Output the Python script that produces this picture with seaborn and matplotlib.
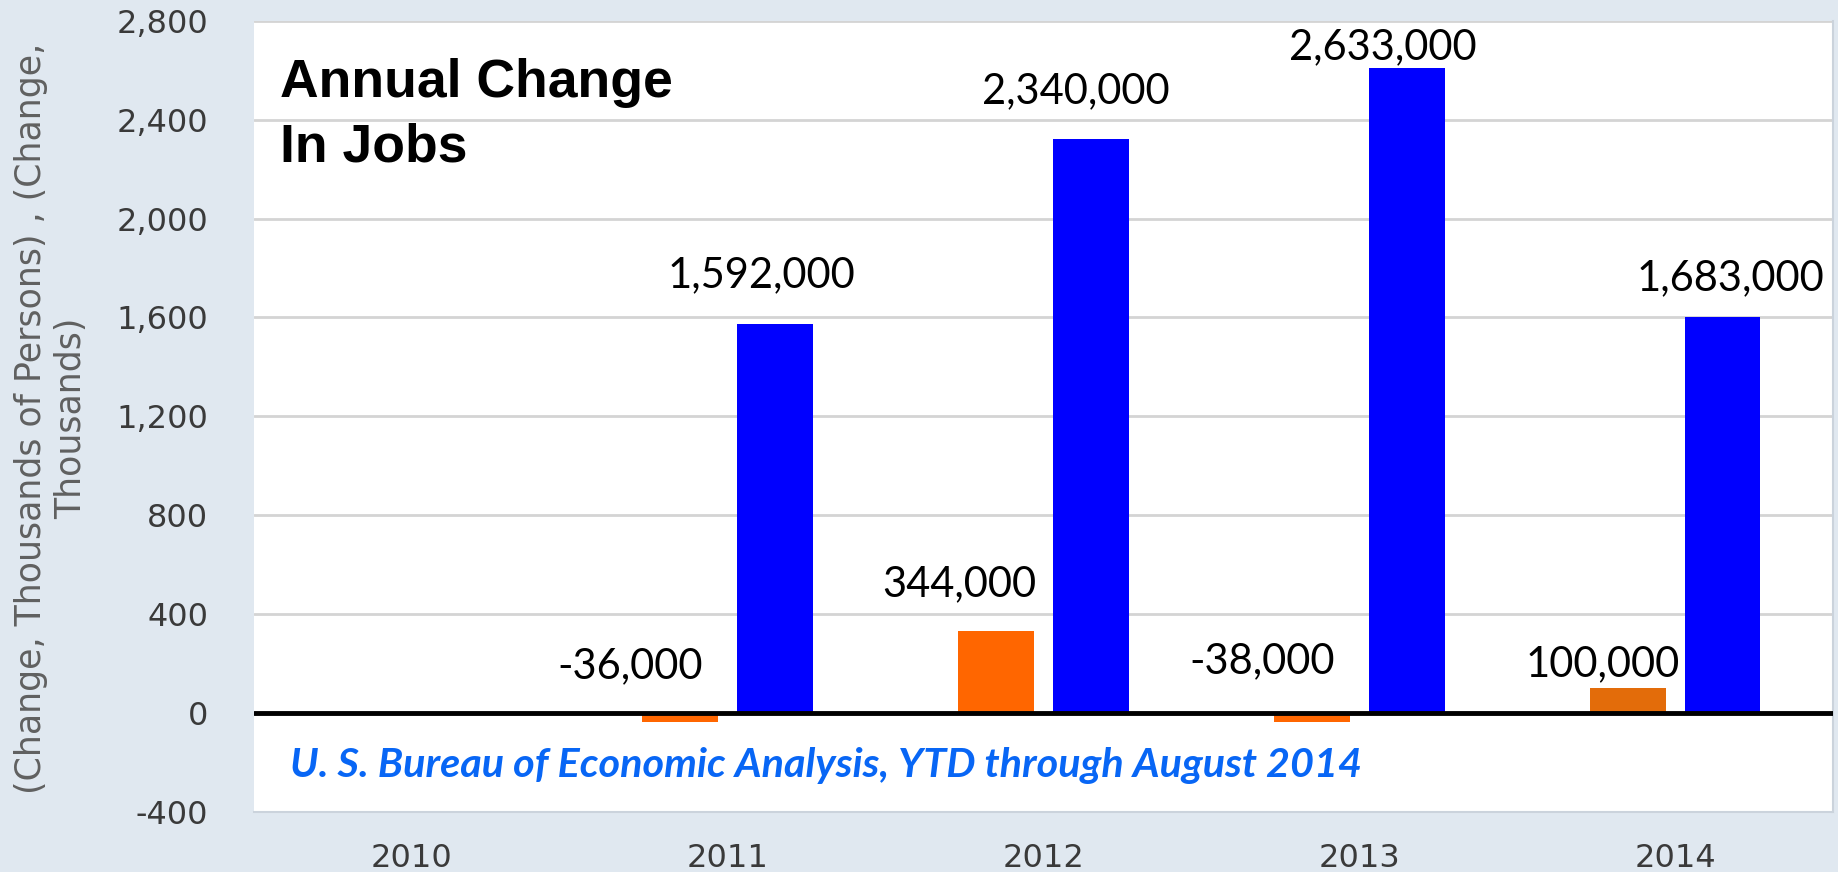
# Annual change in jobs, 2010-2014 (BEA, YTD through August 2014)

import numpy as np
import pandas as pd
import matplotlib
matplotlib.use('Agg')
import matplotlib.pyplot as plt
import seaborn as sns

years = ['2010', '2011', '2012', '2013', '2014']
series = ['Change, Thousands of Persons', 'Change, Thousands']

# valores (miles); 2010 no tiene barras
orange_vals = [np.nan, -36, 330, -38, 100]
blue_vals = [np.nan, 1575, 2320, 2610, 1600]

# etiquetas escritas a mano en el grafico original
orange_labels = ['', '-36,000', '344,000', '-38,000', '100,000']
blue_labels = ['', '1,592,000', '2,340,000', '2,633,000', '1,683,000']

y_ticks = [-400, 0, 400, 800, 1200, 1600, 2000, 2400, 2800]

df = pd.DataFrame({
    'year': years * 2,
    'series': [series[0]] * len(years) + [series[1]] * len(years),
    'value': orange_vals + blue_vals,
}).dropna()

sns.set_style('white')
plt.rcParams['font.family'] = ['DejaVu Sans']

W, H = 1838, 872
fig = plt.figure(figsize=(W / 100, H / 100), dpi=100, facecolor='#e0e8f0')
ax = fig.add_axes([254 / W, 60 / H, 1579 / W, 791.3 / H])
ax.set_facecolor('white')

sns.barplot(data=df, x='year', y='value', hue='series', order=years, hue_order=series,
            palette=['#ff6600', '#0000ff'], saturation=1, width=0.6, gap=0.2,
            linewidth=0, errorbar=None, legend=False, ax=ax, zorder=2)

# la barra naranja de 2014 tiene otro tono
for bar in ax.containers[0]:
    if round(bar.get_x() + bar.get_width() / 2) == 4:
        bar.set_facecolor('#e36c0a')

ax.set_xlim(-0.5, 4.5)
ax.set_ylim(-400, 2800)
ax.set_yticks(y_ticks)
ax.set_yticklabels([f'{v:,}' for v in y_ticks])
ax.yaxis.grid(True, color='#d4d4d4', lw=2)
ax.set_axisbelow(True)
ax.axhline(0, color='black', lw=3.5, zorder=4)

ax.tick_params(axis='y', length=0, pad=33, labelsize=23, labelcolor='#3a3a3a')
ax.tick_params(axis='x', length=20, width=1.5, color='#c3d1e0', direction='out',
               pad=2, labelsize=23, labelcolor='#3a3a3a')
for s in ['left', 'top']:
    ax.spines[s].set_visible(False)
for s in ['bottom', 'right']:
    ax.spines[s].set_color('#cbd3dc')
    ax.spines[s].set_linewidth(1.5)
ax.set_xlabel('')
ax.set_ylabel('')

# etiquetas de valor (desplazamiento en pixeles desde la punta de la barra)
orange_offsets = [None, (-50, 47), (-37, 47), (-50, 52), (-25, 24)]
blue_offsets = [None, (-14, 48), (-15, 48), (-24, 20), (8, 39)]
for cont, labels, offsets in [(ax.containers[0], orange_labels, orange_offsets),
                              (ax.containers[1], blue_labels, blue_offsets)]:
    for bar in cont:
        cx = bar.get_x() + bar.get_width() / 2
        i = int(round(cx))
        if not labels[i]:
            continue
        ax.annotate(labels[i], xy=(cx, max(bar.get_height(), 0)), xytext=offsets[i],
                    textcoords='offset pixels', ha='center', va='center',
                    fontsize=30, family='Lato', color='black', zorder=5)

fig.text(51 / W, 1 - 418 / H, '(Change, Thousands of Persons) , (Change,\nThousands)',
         rotation=90, ha='center', va='center', multialignment='center',
         fontsize=25, color='#606060')

fig.text(280 / W, 1 - 96.7 / H, 'Annual Change', fontsize=38.5, weight='bold',
         family='Liberation Sans', color='black', va='baseline')
fig.text(280 / W, 1 - 161.7 / H, 'In Jobs', fontsize=38.5, weight='bold',
         family='Liberation Sans', color='black', va='baseline')

fig.text(290 / W, 1 - 777 / H, 'U. S. Bureau of Economic Analysis, YTD through August 2014',
         fontsize=29.8, family='Lato', weight='bold', style='italic', color='#0866f5',
         va='baseline')

fig.savefig('out.png', dpi=100, facecolor=fig.get_facecolor())
